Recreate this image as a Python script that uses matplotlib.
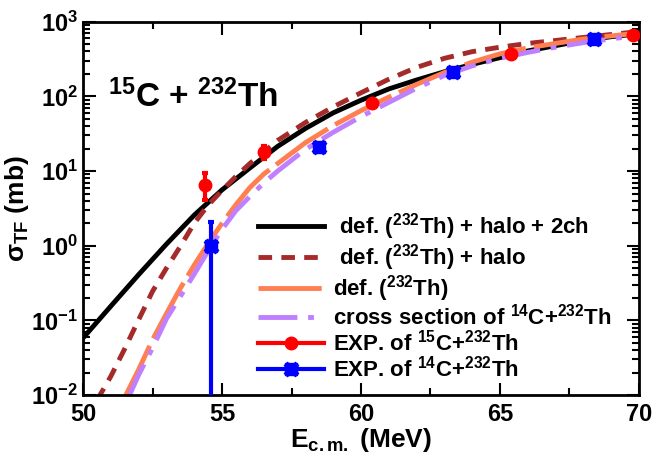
import matplotlib
matplotlib.use("Agg")
import matplotlib.pyplot as plt
from matplotlib.lines import Line2D
from matplotlib.ticker import LogLocator, MultipleLocator, NullFormatter

plt.rcParams['font.family'] = ['Liberation Sans', 'DejaVu Sans']
plt.rcParams['font.weight'] = 'bold'
plt.rcParams['mathtext.fontset'] = 'custom'
plt.rcParams['mathtext.rm'] = 'Liberation Sans:bold'
plt.rcParams['mathtext.bf'] = 'Liberation Sans:bold'
plt.rcParams['mathtext.it'] = 'Liberation Sans:bold'
plt.rcParams['mathtext.default'] = 'bf'

# curves (E in MeV, sigma in mb)
e_black = [50, 51, 52, 53, 54, 55, 56, 57, 58, 59, 60, 61, 62, 63, 64, 65, 66, 67, 68, 69, 70]
s_black = [0.058, 0.155, 0.41, 1.05, 2.57, 5.6, 11.0, 21.4, 37.2, 60.3, 89.0, 126.0, 166.0,
           214.0, 269.0, 331.0, 407.0, 479.0, 562.0, 631.0, 692.0]

e_halo = [50.5, 51, 51.5, 52, 52.5, 53, 53.5, 54, 54.5, 55, 55.5, 56, 57, 58, 59, 60,
          61, 62, 63, 64, 65, 66, 67, 68, 69, 70]
s_halo = [0.0085, 0.0178, 0.0417, 0.102, 0.245, 0.50, 0.98, 2.0, 3.5, 5.5, 8.5, 12.6,
          25.7, 44.7, 72.4, 112.0, 170.0, 245.0, 324.0, 398.0, 457.0, 513.0, 562.0,
          617.0, 676.0, 741.0]

e_def = [51.4, 51.5, 52, 52.5, 53, 53.5, 54, 54.5, 55, 55.5, 56, 56.5, 57, 58, 59, 60,
         61, 62, 63, 64, 65, 66, 67, 68, 69, 70]
s_def = [0.0079, 0.0093, 0.0219, 0.055, 0.123, 0.269, 0.55, 1.07, 2.0, 3.55, 6.0, 9.1,
         12.6, 24.0, 40.7, 64.6, 97.7, 145.0, 209.0, 288.0, 372.0, 447.0, 513.0, 589.0,
         646.0, 708.0]

e_c14 = [51.6, 52, 52.5, 53, 53.5, 54, 54.5, 55, 55.5, 56, 56.5, 57, 58, 59, 60, 61,
         62, 63, 64, 65, 66, 67, 68, 69, 70]
s_c14 = [0.0087, 0.0186, 0.0427, 0.105, 0.209, 0.417, 0.85, 1.66, 2.95, 4.57, 6.9, 10.0,
         19.5, 33.1, 53.7, 83.2, 129.0, 191.0, 257.0, 324.0, 389.0, 457.0, 525.0, 589.0,
         661.0]

# experimental points
e_exp15 = [54.4, 56.5, 60.4, 65.4, 69.8]
s_exp15 = [6.5, 18.0, 82.0, 373.0, 670.0]
lo_exp15 = [2.4, 3.5, 6.0, 15.0, 20.0]
hi_exp15 = [3.0, 4.0, 6.0, 15.0, 20.0]

e_exp14 = [54.6, 58.5, 63.3, 68.4]
s_exp14 = [1.0, 21.0, 212.0, 585.0]
lo_exp14 = [0.999, 1.5, 10.0, 25.0]
hi_exp14 = [1.05, 1.5, 10.0, 25.0]

labels = [r' def. ($^{232}$Th) + halo + 2ch',
          r' def. ($^{232}$Th) + halo',
          r'def. ($^{232}$Th)',
          r'cross section of $^{14}$C+$^{232}$Th',
          r'EXP. of $^{15}$C+$^{232}$Th',
          r'EXP. of $^{14}$C+$^{232}$Th']

LW = 3.5
fig = plt.figure(figsize=(6.54, 4.54), dpi=100)
ax = fig.add_axes([0.127, 0.130, 0.850, 0.822])

h1, = ax.plot(e_black, s_black, color='black', lw=LW)
h2, = ax.plot(e_halo, s_halo, color='#a52a2a', lw=LW, dashes=(2.8, 1.9))
h3, = ax.plot(e_def, s_def, color='#ff7f50', lw=LW, dashes=(13, 1.7))
h4, = ax.plot(e_c14, s_c14, color='#bf80ff', lw=LW, dashes=(8, 2.2, 1.2, 2.2))

ax.errorbar(e_exp15, s_exp15, yerr=[lo_exp15, hi_exp15], fmt='o', color='red',
            ms=9, lw=3, capsize=2, capthick=3, zorder=5)
ax.errorbar(e_exp14, s_exp14, yerr=[lo_exp14, hi_exp14], fmt='s', color='blue',
            ms=8.5, lw=3, capsize=2, capthick=3, zorder=5)
ax.plot(e_exp14, s_exp14, 'X', color='blue', ms=10.5, zorder=6)

h5 = Line2D([], [], color='red', lw=3, marker='o', ms=9)
h6 = (Line2D([], [], color='blue', lw=3, marker='s', ms=8.5),
      Line2D([], [], color='blue', lw=0, marker='X', ms=10.5))

ax.set_yscale('log')
ax.set_xlim(50, 70)
ax.set_ylim(1e-2, 1e3)
ax.xaxis.set_major_locator(MultipleLocator(5))
ax.xaxis.set_minor_locator(MultipleLocator(2.5))
ax.yaxis.set_major_locator(LogLocator(base=10, numticks=10))
ax.yaxis.set_minor_locator(LogLocator(base=10, subs=range(2, 10), numticks=10))
ax.yaxis.set_minor_formatter(NullFormatter())
ax.tick_params(which='both', direction='in', top=True, right=True, labelsize=17, width=1.5)
ax.tick_params(which='major', length=9)
ax.tick_params(which='minor', length=5)
ax.tick_params(axis='x', pad=6)
for sp in ax.spines.values():
    sp.set_linewidth(2)

ax.set_xlabel(r'E$_{\mathrm{c.m.}}$ (MeV)', fontsize=19, fontweight='bold', labelpad=0)
ax.set_ylabel(r'$\sigma_{\mathrm{TF}}$ (mb)', fontsize=19, fontweight='bold', labelpad=0)

ax.text(50.9, 100, r'$^{15}$C + $^{232}$Th', fontsize=24, fontweight='bold', va='center')

ax.legend([h1, h2, h3, h4, h5, h6], labels, loc='lower left', bbox_to_anchor=(0.29, 0.0),
          frameon=False, fontsize=16, handlelength=3.0, handletextpad=0.4,
          labelspacing=0.0, borderaxespad=0.2, numpoints=1)

fig.savefig('out.png', dpi=100)
